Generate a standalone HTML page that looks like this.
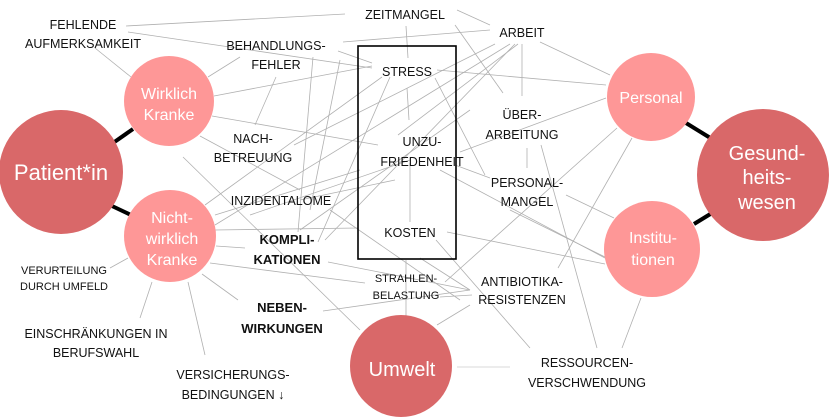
<!DOCTYPE html>
<html><head><meta charset="utf-8"><style>
html,body{margin:0;padding:0;background:#fff;}
svg{display:block;}
text{font-family:"Liberation Sans",sans-serif;}
.l{font-size:12.5px;fill:#111;text-anchor:middle;}
.s{font-size:11px;fill:#111;text-anchor:middle;}
.b{font-size:13px;font-weight:bold;fill:#111;text-anchor:middle;}
.c{fill:#fff;text-anchor:middle;}
</style></head><body>
<svg width="839" height="417" viewBox="0 0 839 417" xmlns="http://www.w3.org/2000/svg">
<g stroke="#b0b0b0" stroke-width="0.8" fill="none">
<line x1="126" y1="26" x2="345" y2="14"/>
<line x1="128" y1="32" x2="372" y2="68"/>
<line x1="95" y1="48" x2="131" y2="77"/>
<line x1="240" y1="57" x2="208" y2="77"/>
<line x1="338" y1="51" x2="372" y2="63"/>
<line x1="343" y1="42" x2="490" y2="30"/>
<line x1="457" y1="10" x2="490" y2="25"/>
<line x1="406" y1="26" x2="408" y2="58"/>
<line x1="455" y1="25" x2="503" y2="93"/>
<line x1="214" y1="96" x2="372" y2="66"/>
<line x1="212" y1="116" x2="378" y2="145"/>
<line x1="183" y1="157" x2="360" y2="330"/>
<line x1="200" y1="136" x2="300" y2="190"/>
<line x1="276" y1="77" x2="255" y2="125"/>
<line x1="313" y1="57" x2="298" y2="232"/>
<line x1="382" y1="77" x2="205" y2="205"/>
<line x1="390" y1="77" x2="318" y2="242"/>
<line x1="495" y1="44" x2="294" y2="145"/>
<line x1="510" y1="44" x2="215" y2="225"/>
<line x1="515" y1="44" x2="325" y2="240"/>
<line x1="518" y1="44" x2="398" y2="135"/>
<line x1="522" y1="44" x2="522" y2="96"/>
<line x1="540" y1="42" x2="610" y2="75"/>
<line x1="437" y1="70" x2="606" y2="85"/>
<line x1="435" y1="78" x2="485" y2="175"/>
<line x1="460" y1="152" x2="606" y2="98"/>
<line x1="527" y1="148" x2="527" y2="168"/>
<line x1="541" y1="145" x2="597" y2="348"/>
<line x1="455" y1="165" x2="490" y2="178"/>
<line x1="440" y1="170" x2="605" y2="258"/>
<line x1="566" y1="195" x2="614" y2="218"/>
<line x1="632" y1="138" x2="558" y2="268"/>
<line x1="617" y1="128" x2="445" y2="282"/>
<line x1="447" y1="232" x2="605" y2="264"/>
<line x1="510" y1="210" x2="605" y2="257"/>
<line x1="641" y1="298" x2="622" y2="348"/>
<line x1="436" y1="240" x2="530" y2="348"/>
<line x1="437" y1="325" x2="470" y2="305"/>
<line x1="440" y1="297" x2="472" y2="295"/>
<line x1="420" y1="258" x2="470" y2="290"/>
<line x1="215" y1="230" x2="358" y2="228"/>
<line x1="216" y1="246" x2="245" y2="248"/>
<line x1="210" y1="263" x2="365" y2="283"/>
<line x1="328" y1="262" x2="470" y2="290"/>
<line x1="323" y1="311" x2="470" y2="290"/>
<line x1="202" y1="274" x2="238" y2="300"/>
<line x1="128" y1="258" x2="110" y2="268"/>
<line x1="152" y1="282" x2="140" y2="318"/>
<line x1="188" y1="282" x2="205" y2="355"/>
<line x1="410" y1="163" x2="410" y2="222"/>
<line x1="406" y1="260" x2="406" y2="318"/>
<line x1="407" y1="88" x2="409" y2="120"/>
<line x1="300" y1="200" x2="395" y2="180"/>
<line x1="215" y1="215" x2="360" y2="170"/>
<line x1="330" y1="210" x2="460" y2="300"/>
<line x1="250" y1="215" x2="410" y2="160"/>
<line x1="340" y1="60" x2="310" y2="210"/>
<line x1="300" y1="230" x2="470" y2="110"/>
</g>
<line x1="457" y1="367" x2="510" y2="367" stroke="#d8d8d8" stroke-width="1"/>
<rect x="358" y="46" width="98" height="213" fill="none" stroke="#000" stroke-width="1.6"/>
<g stroke="#000" stroke-width="4">
<line x1="113" y1="143" x2="133" y2="129"/>
<line x1="112" y1="206" x2="131" y2="215"/>
<line x1="686" y1="123" x2="712" y2="139"/>
<line x1="694" y1="224" x2="712" y2="213"/>
</g>
<circle cx="61" cy="172" r="62" fill="#d96869"/>
<circle cx="169" cy="101" r="45" fill="#fe9797"/>
<circle cx="170" cy="236" r="46" fill="#fe9797"/>
<circle cx="651" cy="97" r="44" fill="#fe9797"/>
<circle cx="763" cy="175" r="66" fill="#d96869"/>
<circle cx="652" cy="249" r="48" fill="#fe9797"/>
<circle cx="401" cy="366" r="51" fill="#d96869"/>
<text class="c" x="61" y="180" font-size="22">Patient*in</text>
<text class="c" x="169" y="99" font-size="16">Wirklich</text>
<text class="c" x="169" y="120" font-size="16">Kranke</text>
<text class="c" x="172" y="223" font-size="16">Nicht-</text>
<text class="c" x="172" y="244" font-size="16">wirklich</text>
<text class="c" x="172" y="265" font-size="16">Kranke</text>
<text class="c" x="651" y="103" font-size="16">Personal</text>
<text class="c" x="767" y="160" font-size="20">Gesund-</text>
<text class="c" x="767" y="184" font-size="20">heits-</text>
<text class="c" x="767" y="209" font-size="20">wesen</text>
<text class="c" x="653" y="243" font-size="16">Institu-</text>
<text class="c" x="653" y="265" font-size="16">tionen</text>
<text class="c" x="402" y="376" font-size="20">Umwelt</text>
<text class="l" x="405" y="19">ZEITMANGEL</text>
<text class="l" x="83" y="29">FEHLENDE</text>
<text class="l" x="83" y="48">AUFMERKSAMKEIT</text>
<text class="l" x="276" y="50">BEHANDLUNGS-</text>
<text class="l" x="276" y="69">FEHLER</text>
<text class="l" x="522" y="37">ARBEIT</text>
<text class="l" x="407" y="76">STRESS</text>
<text class="l" x="522" y="119">ÜBER-</text>
<text class="l" x="522" y="139">ARBEITUNG</text>
<text class="l" x="253" y="143">NACH-</text>
<text class="l" x="253" y="162">BETREUUNG</text>
<text class="l" x="422" y="146">UNZU-</text>
<text class="l" x="422" y="166">FRIEDENHEIT</text>
<text class="l" x="527" y="187">PERSONAL-</text>
<text class="l" x="527" y="206">MANGEL</text>
<text class="l" x="281" y="205">INZIDENTALOME</text>
<text class="l" x="410" y="237">KOSTEN</text>
<text class="b" x="287" y="244">KOMPLI-</text>
<text class="b" x="287" y="264">KATIONEN</text>
<text class="s" x="64" y="274">VERURTEILUNG</text>
<text class="s" x="64" y="290">DURCH UMFELD</text>
<text class="s" x="406" y="282">STRAHLEN-</text>
<text class="s" x="406" y="299">BELASTUNG</text>
<text class="l" x="522" y="286">ANTIBIOTIKA-</text>
<text class="l" x="522" y="304">RESISTENZEN</text>
<text class="b" x="282" y="312">NEBEN-</text>
<text class="b" x="282" y="333">WIRKUNGEN</text>
<text class="l" x="96" y="338">EINSCHRÄNKUNGEN IN</text>
<text class="l" x="96" y="357">BERUFSWAHL</text>
<text class="l" x="587" y="367">RESSOURCEN-</text>
<text class="l" x="587" y="387">VERSCHWENDUNG</text>
<text class="l" x="233" y="379">VERSICHERUNGS-</text>
<text class="l" x="233" y="399">BEDINGUNGEN ↓</text>
</svg>
</body></html>
